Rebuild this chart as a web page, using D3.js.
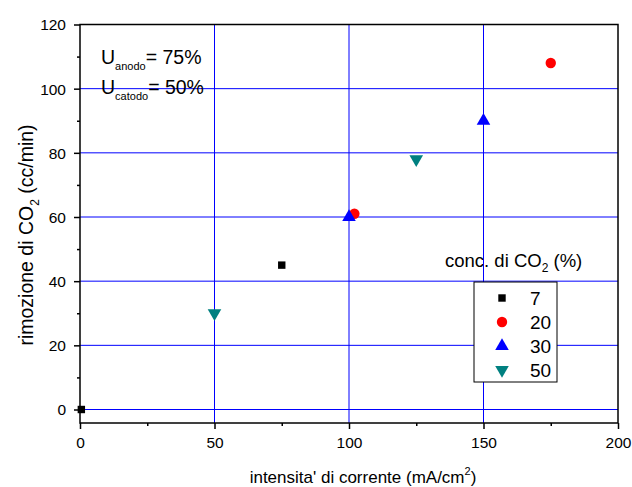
<!DOCTYPE html>
<html><head><meta charset="utf-8">
<script src="https://cdn.jsdelivr.net/npm/d3@7"></script>
<style>body{margin:0;background:#fff}text{font-family:"Liberation Sans",Arial,sans-serif}</style>
</head><body><svg id="c" width="632" height="487"></svg>
<script>
const seriesNames = ["7","20","30","50"];
const seriesSymbols = ["square","circle","triangle","triangleDown"];
const seriesColors = ["#000000","#ff0000","#0000ff","#008080"];
const s7 = [[0.5,0],[75,45]];
const s20 = [[102,61],[175,108]];
const s30 = [[100,60],[150,90]];
const s50 = [[50,30],[125,78]];
const xTicks = [0,50,100,150,200];
const yTicks = [0,20,40,60,80,100,120];
const xGrid = [50,100,150];
const yGrid = [0,20,40,60,80,100];

const svg = d3.select("#c");
const L=80,R=618,T=24.5,B=423;
const x = d3.scaleLinear().domain([0,200]).range([L,R]);
const y = d3.scaleLinear().domain([0,120]).range([409.5,T]);

// grid
svg.selectAll(".gx").data(xGrid).enter().append("line")
  .attr("x1",d=>x(d)).attr("x2",d=>x(d)).attr("y1",T).attr("y2",B)
  .attr("stroke","#0000ff").attr("stroke-width",1);
svg.selectAll(".gy").data(yGrid).enter().append("line")
  .attr("x1",L).attr("x2",R).attr("y1",d=>y(d)).attr("y2",d=>y(d))
  .attr("stroke","#0000ff").attr("stroke-width",1);

// axes
const xAxis = d3.axisBottom(x).tickValues(xTicks).tickSize(6).tickPadding(5);
const gx = svg.append("g").attr("transform",`translate(0,${B})`).call(xAxis);
const xMinor = d3.axisBottom(x).tickValues([25,75,125,175]).tickSize(3).tickFormat("");
svg.append("g").attr("transform",`translate(0,${B})`).call(xMinor).select(".domain").remove();
const yAxis = d3.axisLeft(y).tickValues(yTicks).tickSize(6).tickPadding(4);
const gy = svg.append("g").attr("transform",`translate(${L},0)`).call(yAxis);
const yMinor = d3.axisLeft(y).tickValues([10,30,50,70,90,110]).tickSize(3).tickFormat("");
svg.append("g").attr("transform",`translate(${L},0)`).call(yMinor).select(".domain").remove();
svg.selectAll(".domain").remove();
svg.selectAll(".tick line").attr("stroke","#000").attr("stroke-width",1.5);
svg.selectAll(".tick text").attr("font-size",15.5).attr("fill","#000")
  .style("font-family","'Liberation Sans',Arial,sans-serif");
gx.selectAll(".tick text").attr("y",25).attr("dy",0);
gy.selectAll(".tick text").attr("x",-14).attr("dy","0.35em");

// frame
svg.append("rect").attr("x",L).attr("y",T).attr("width",R-L).attr("height",B-T)
  .attr("fill","none").attr("stroke","#000").attr("stroke-width",1.5);

// markers
const symMap = {
  square: d3.symbolSquare, circle: d3.symbolCircle, triangle: d3.symbolTriangle, triangleDown: d3.symbolTriangle
};
function drawSym(g, name, color, cx, cy, size){
  const p = g.append("path").attr("d", d3.symbol().type(symMap[name]).size(size)())
    .attr("fill",color);
  let tr = `translate(${cx},${cy})`;
  if(name==="triangleDown") tr += " rotate(180)";
  p.attr("transform",tr);
}
const sizes = {square:55, circle:85, triangle:80, triangleDown:80};
const allSeries = [s7,s20,s30,s50];
allSeries.forEach((s,i)=>{
  const g = svg.append("g");
  s.forEach(d=>drawSym(g, seriesSymbols[i], seriesColors[i], x(d[0]), y(d[1]), sizes[seriesSymbols[i]]));
});

// legend
const lg = svg.append("g");
lg.append("text").attr("x",445).attr("y",267).attr("font-size",18.5)
  .html('conc. di CO<tspan font-size="12" dy="5">2</tspan><tspan dy="-5"> (%)</tspan>');
lg.append("rect").attr("x",474).attr("y",282).attr("width",83).attr("height",100)
  .attr("fill","#fff").attr("stroke","#000").attr("stroke-width",1);
seriesNames.forEach((n,i)=>{
  const cy = 298+i*24;
  drawSym(lg, seriesSymbols[i], seriesColors[i], 502, cy, sizes[seriesSymbols[i]]);
  lg.append("text").attr("x",530).attr("y",cy+7).attr("font-size",19).text(n);
});

// annotation
const an = svg.append("g").attr("font-size",19.5);
an.append("text").attr("x",101).attr("y",64)
  .html('U<tspan font-size="11" dy="6">anodo</tspan><tspan dy="-6">= 75%</tspan>');
an.append("text").attr("x",101).attr("y",94)
  .html('U<tspan font-size="11" dy="6">catodo</tspan><tspan dy="-6">= 50%</tspan>');

// axis titles
svg.append("text").attr("x",363).attr("y",483).attr("text-anchor","middle").attr("font-size",17)
  .html('intensita\' di corrente (mA/cm<tspan font-size="11" dy="-8">2</tspan><tspan dy="8">)</tspan>');
svg.append("text").attr("transform","translate(33,235) rotate(-90)").attr("text-anchor","middle").attr("font-size",19.5)
  .html('rimozione di CO<tspan font-size="12" dy="6">2</tspan><tspan dy="-6"> (cc/min)</tspan>');
</script></body></html>
